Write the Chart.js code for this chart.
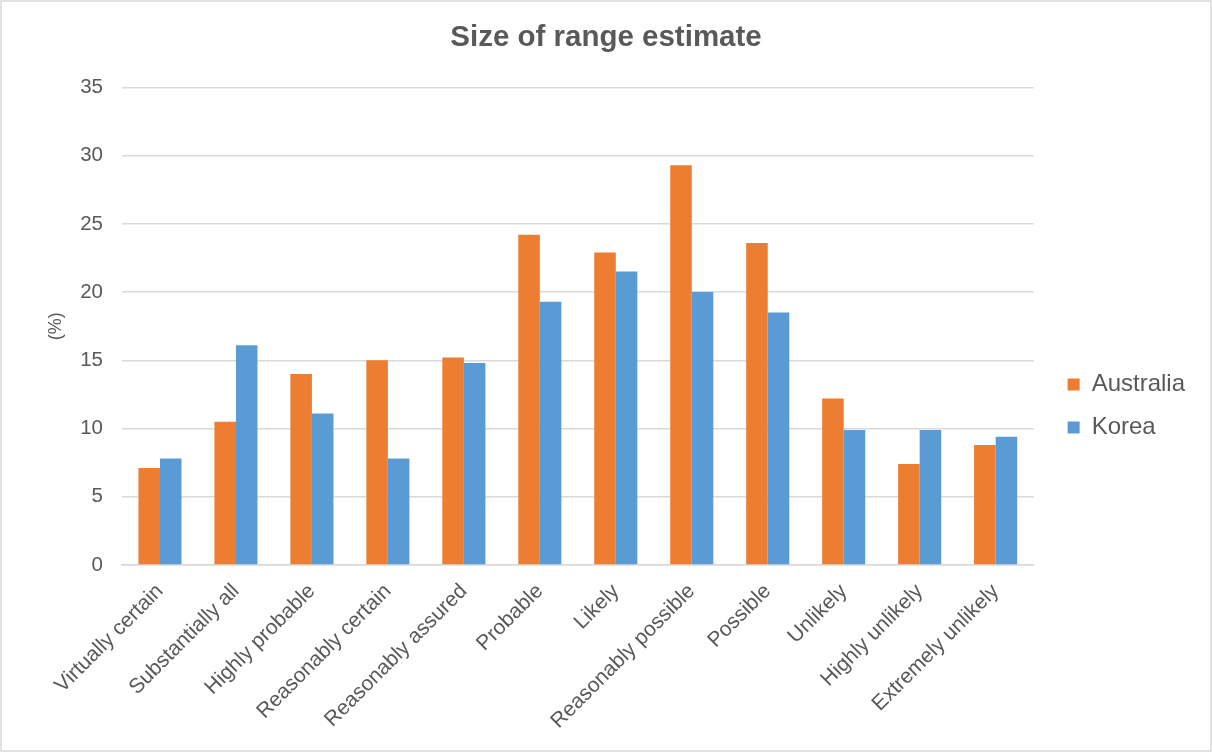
<!DOCTYPE html>
<html>
<head>
<meta charset="utf-8">
<title>Size of range estimate</title>
<script src="https://cdn.jsdelivr.net/npm/chart.js@4/dist/chart.umd.min.js"></script>
<style>
    html, body { margin: 0; padding: 0; background: #ffffff; }
    canvas { display: block; }
</style>
</head>
<body>
<canvas id="range-chart" width="1212" height="752"></canvas>
<script>
const categories = [
    "Virtually certain", "Substantially all", "Highly probable", "Reasonably certain",
    "Reasonably assured", "Probable", "Likely", "Reasonably possible",
    "Possible", "Unlikely", "Highly unlikely", "Extremely unlikely"
];
const australia = [7.1, 10.5, 14.0, 15.0, 15.2, 24.2, 22.9, 29.3, 23.6, 12.2, 7.4, 8.8];
const korea = [7.8, 16.1, 11.1, 7.8, 14.8, 19.3, 21.5, 20.0, 18.5, 9.9, 9.9, 9.4];
const yTicks = [0, 5, 10, 15, 20, 25, 30, 35];

const textColor = "#595959";
const gridColor = "#d9d9d9";
const fontFamily = "'Liberation Sans', Arial, sans-serif";

// thin frame round the whole chart
const frame = {
    id: "frame",
    afterDraw(chart) {
        const ctx = chart.ctx;
        ctx.save();
        ctx.strokeStyle = gridColor;
        ctx.lineWidth = 1.5;
        ctx.strokeRect(1, 1, chart.width - 2, chart.height - 2);
        ctx.restore();
    }
};

// title centred on the whole canvas, legend lower and further right
const placeBoxes = {
    id: "placeBoxes",
    afterLayout(chart) {
        const tb = chart.titleBlock;
        tb.left = 0;
        tb.right = chart.width;
        tb.width = chart.width;

        const lg = chart.legend;
        const dy = 406 - (lg.top + lg.bottom) / 2;
        const dx = 15;
        lg.top += dy;
        lg.bottom += dy;
        lg.left += dx;
        lg.right += dx;
    }
};

new Chart(document.getElementById("range-chart"), {
    type: "bar",
    data: {
        labels: categories,
        datasets: [
            {
                label: "Australia",
                data: australia,
                backgroundColor: "#ed7d31",
                borderWidth: 0,
                categoryPercentage: 0.567,
                barPercentage: 1.0
            },
            {
                label: "Korea",
                data: korea,
                backgroundColor: "#5b9bd5",
                borderWidth: 0,
                categoryPercentage: 0.567,
                barPercentage: 1.0
            }
        ]
    },
    options: {
        responsive: false,
        animation: false,
        devicePixelRatio: 1,
        layout: { padding: { left: 0, right: 32, top: 0, bottom: 0 } },
        plugins: {
            title: {
                display: true,
                text: "Size of range estimate",
                color: textColor,
                font: { family: fontFamily, size: 29.5, weight: "bold" },
                padding: { top: 20, bottom: 32 }
            },
            legend: {
                position: "right",
                labels: {
                    color: textColor,
                    font: { family: fontFamily, size: 24 },
                    boxWidth: 12,
                    boxHeight: 12,
                    padding: 19
                }
            },
            tooltip: { enabled: false }
        },
        scales: {
            x: {
                grid: { display: false },
                border: { display: true, color: gridColor, width: 1.5 },
                ticks: {
                    color: textColor,
                    font: { family: fontFamily, size: 21 },
                    maxRotation: 45,
                    minRotation: 45,
                    padding: 6
                },
                afterFit(scale) {
                    scale.height = 187;
                }
            },
            y: {
                min: 0,
                max: 35,
                afterBuildTicks(scale) {
                    scale.ticks = yTicks.map(v => ({ value: v }));
                },
                grid: { color: gridColor, lineWidth: 1.5, drawTicks: false },
                border: { display: false },
                ticks: {
                    color: textColor,
                    font: { family: fontFamily, size: 20.5 },
                    padding: 19
                },
                title: {
                    display: true,
                    text: "(%)",
                    color: textColor,
                    font: { family: fontFamily, size: 18 },
                    padding: { top: 45, bottom: 0 }
                },
                afterFit(scale) {
                    scale.width = 122;
                }
            }
        }
    },
    plugins: [frame, placeBoxes]
});
</script>
</body>
</html>
